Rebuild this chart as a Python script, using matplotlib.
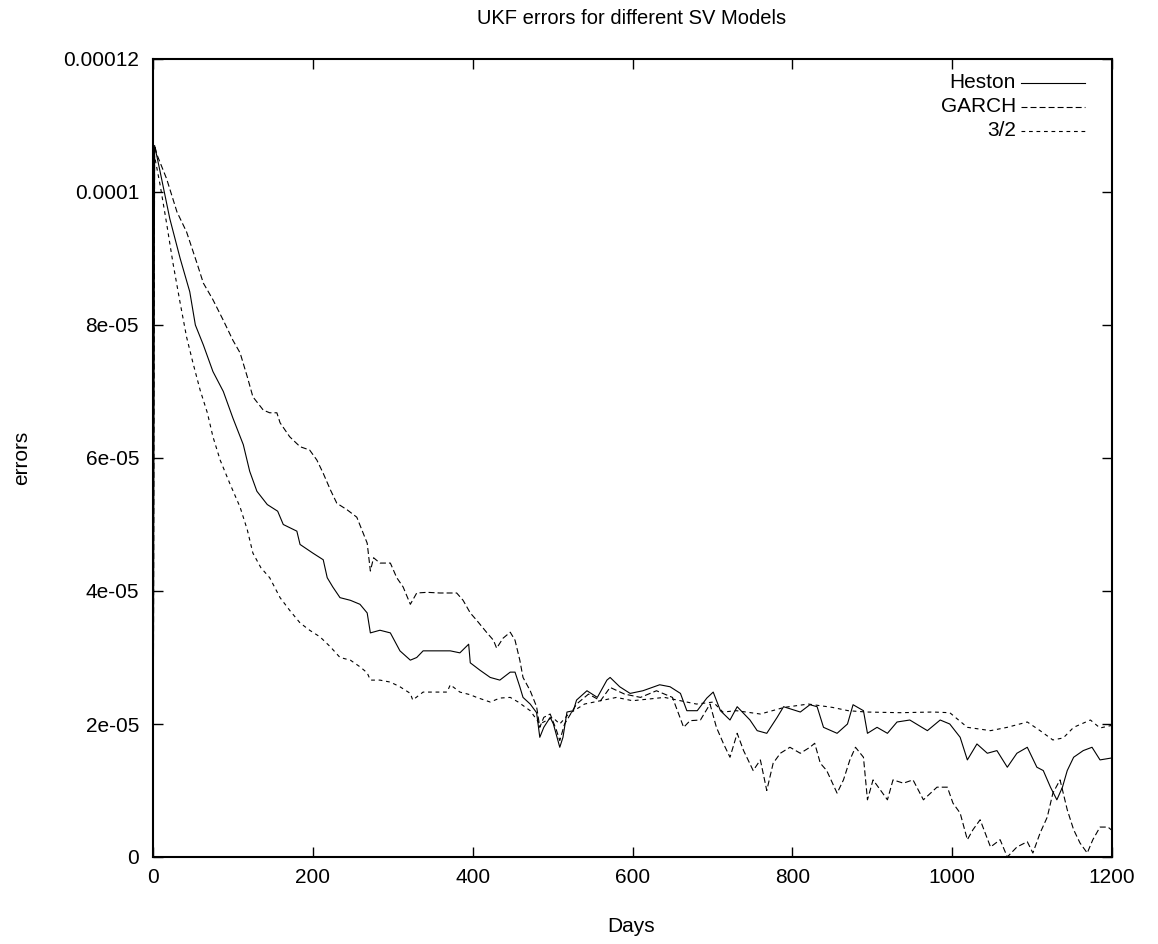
import numpy as np
import matplotlib
matplotlib.use("Agg")
import matplotlib.pyplot as plt
from matplotlib.lines import Line2D

plt.rcParams['font.family'] = ['Liberation Sans', 'DejaVu Sans']
plt.rcParams['lines.scale_dashes'] = False

# ---- data (errors in units of 1e-5) ----
heston_days = [0, 2, 9, 21, 34, 46, 53, 63, 75, 88, 100, 113, 121, 130, 143, 156, 163, 180, 184,
               200, 213, 218, 225, 234, 247, 259, 268, 272, 284, 297, 309, 322, 330, 338, 372,
               384, 395, 397, 409, 422, 434, 447, 453, 459, 463, 472, 480, 484, 489, 497, 501,
               509, 513, 518, 526, 530, 543, 556, 568, 572, 584, 597, 613, 634, 647, 660, 668,
               681, 693, 701, 710, 722, 731, 747, 756, 768, 781, 789, 810, 822, 831, 839, 856,
               869, 876, 889, 894, 906, 919, 931, 947, 969, 985, 997, 1010, 1019, 1031, 1044,
               1056, 1069, 1081, 1094, 1106, 1114, 1123, 1131, 1138, 1144, 1152, 1164, 1175,
               1185, 1200]
heston_vals = [0.0, 10.7, 10.3, 9.6, 9.0, 8.5, 8.0, 7.7, 7.3, 7.0, 6.6, 6.2, 5.8, 5.5, 5.3, 5.2,
               5.0, 4.9, 4.7, 4.57, 4.47, 4.2, 4.06, 3.9, 3.86, 3.8, 3.67, 3.37, 3.41, 3.37, 3.1,
               2.96, 3.0, 3.1, 3.1, 3.07, 3.2, 2.92, 2.81, 2.7, 2.66, 2.78, 2.78, 2.56, 2.4, 2.3,
               2.17, 1.8, 1.95, 2.1, 2.0, 1.65, 1.8, 2.18, 2.2, 2.36, 2.5, 2.4, 2.66, 2.7, 2.56,
               2.46, 2.5, 2.59, 2.56, 2.46, 2.2, 2.2, 2.39, 2.48, 2.2, 2.06, 2.26, 2.06, 1.9,
               1.86, 2.1, 2.26, 2.18, 2.29, 2.26, 1.95, 1.86, 2.0, 2.29, 2.2, 1.86, 1.95, 1.86,
               2.03, 2.06, 1.9, 2.06, 2.0, 1.8, 1.46, 1.7, 1.56, 1.6, 1.35, 1.56, 1.65, 1.35, 1.3,
               1.05, 0.86, 1.05, 1.3, 1.5, 1.6, 1.65, 1.46, 1.49]

garch_days = [0, 2, 5, 17, 30, 42, 55, 63, 75, 88, 100, 109, 118, 125, 138, 146, 155, 159, 171,
              184, 196, 205, 213, 222, 230, 243, 255, 263, 268, 272, 276, 284, 297, 305, 313,
              322, 330, 343, 359, 380, 388, 397, 405, 418, 426, 430, 438, 447, 453, 459, 463,
              472, 480, 484, 489, 497, 505, 509, 515, 520, 530, 545, 560, 572, 590, 610, 630,
              650, 664, 672, 685, 697, 705, 714, 722, 731, 739, 751, 760, 768, 776, 785, 797,
              810, 822, 828, 835, 843, 856, 864, 872, 879, 889, 894, 901, 919, 926, 939, 951,
              964, 981, 994, 1001, 1010, 1019, 1026, 1035, 1048, 1060, 1069, 1081, 1094, 1101,
              1110, 1119, 1126, 1135, 1144, 1152, 1160, 1169, 1176, 1185, 1195, 1200]
garch_vals = [0.0, 10.7, 10.56, 10.2, 9.7, 9.4, 8.93, 8.63, 8.38, 8.07, 7.77, 7.58, 7.22, 6.92,
              6.72, 6.68, 6.68, 6.53, 6.32, 6.17, 6.12, 5.97, 5.77, 5.52, 5.32, 5.22, 5.11, 4.87,
              4.72, 4.3, 4.5, 4.42, 4.42, 4.2, 4.06, 3.8, 3.97, 3.98, 3.97, 3.97, 3.86, 3.67,
              3.56, 3.37, 3.26, 3.14, 3.29, 3.38, 3.26, 2.96, 2.7, 2.5, 2.26, 1.95, 2.1, 2.15,
              1.9, 1.75, 2.0, 2.1, 2.3, 2.45, 2.35, 2.55, 2.45, 2.4, 2.5, 2.4, 1.95, 2.05, 2.06,
              2.3, 1.95, 1.7, 1.5, 1.86, 1.6, 1.3, 1.46, 1.0, 1.41, 1.56, 1.65, 1.56, 1.65, 1.71,
              1.41, 1.3, 0.96, 1.16, 1.46, 1.65, 1.5, 0.86, 1.16, 0.86, 1.16, 1.11, 1.16, 0.86,
              1.05, 1.05, 0.81, 0.66, 0.26, 0.41, 0.56, 0.15, 0.26, 0.0, 0.15, 0.23, 0.06, 0.36,
              0.6, 0.96, 1.16, 0.71, 0.41, 0.21, 0.06, 0.26, 0.45, 0.45, 0.4]

threehalf_days = [0, 1, 9, 17, 25, 34, 42, 50, 59, 68, 75, 84, 96, 109, 118, 125, 135, 146, 159,
                  171, 184, 196, 209, 222, 234, 247, 259, 268, 272, 284, 297, 309, 322, 325, 338,
                  368, 372, 384, 397, 405, 422, 434, 447, 457, 472, 484, 500, 509, 520, 540, 560,
                  580, 600, 640, 680, 701, 713, 730, 760, 790, 820, 850, 870, 893, 935, 976, 997,
                  1019, 1048, 1069, 1094, 1110, 1126, 1139, 1152, 1173, 1185, 1200]
threehalf_vals = [0.0, 10.6, 10.1, 9.53, 8.93, 8.33, 7.82, 7.43, 7.02, 6.68, 6.32, 5.97, 5.62,
                  5.26, 4.92, 4.57, 4.35, 4.2, 3.9, 3.71, 3.52, 3.41, 3.31, 3.16, 3.0, 2.96, 2.86,
                  2.77, 2.66, 2.66, 2.63, 2.56, 2.46, 2.36, 2.48, 2.48, 2.59, 2.48, 2.44, 2.4,
                  2.33, 2.39, 2.4, 2.33, 2.2, 2.0, 2.1, 2.0, 2.15, 2.3, 2.35, 2.4, 2.35, 2.4, 2.3,
                  2.33, 2.18, 2.2, 2.15, 2.25, 2.3, 2.25, 2.2, 2.18, 2.17, 2.18, 2.17, 1.95, 1.9,
                  1.95, 2.03, 1.9, 1.76, 1.79, 1.95, 2.06, 1.94, 1.98]

series_names = ["Heston", "GARCH", "3/2"]
x_ticks = [0, 200, 400, 600, 800, 1000, 1200]
y_ticks = [0, 2e-05, 4e-05, 6e-05, 8e-05, 1e-04, 1.2e-04]
y_tick_labels = ["0", "2e-05", "4e-05", "6e-05", "8e-05", "0.0001", "0.00012"]

# ---- figure ----
W, H = 1158, 944
fig = plt.figure(figsize=(W / 100, H / 100), dpi=100)
ax = fig.add_axes([153 / W, 1 - 857 / H, (1112 - 153) / W, (857 - 59) / H])

styles = [dict(linestyle='-'),
          dict(linestyle=(0, (4.3, 2.2))),
          dict(linestyle=(0, (2.7, 2.7)))]
data = [(heston_days, heston_vals), (garch_days, garch_vals), (threehalf_days, threehalf_vals)]

for (d, v), st in zip(data, styles):
    ax.plot(d, np.array(v) * 1e-5, color='black', linewidth=0.8, **st)

ax.set_xlim(0, 1200)
ax.set_ylim(0, 1.2e-4)
ax.set_xticks(x_ticks)
ax.set_xticklabels([str(t) for t in x_ticks])
ax.set_yticks(y_ticks)
ax.set_yticklabels(y_tick_labels)
ax.tick_params(direction='in', top=True, right=True, length=7, width=1.0,
               labelsize=15, colors='black')
ax.tick_params(axis='y', pad=10)
ax.tick_params(axis='x', pad=8)
for s in ax.spines.values():
    s.set_linewidth(1.5)

# gnuplot-style key (text right-aligned, sample to the right)
key_y = [83, 107, 131]
for name, st, yp in zip(series_names, styles, key_y):
    ya = (857 - yp) / (857 - 59)
    ax.text((1016 - 153) / 959, ya, name, transform=ax.transAxes, ha='right', va='center',
            fontsize=15)
    ax.add_line(Line2D([(1021 - 153) / 959, (1085 - 153) / 959], [ya, ya],
                       transform=ax.transAxes, color='black', linewidth=0.8, **st))

fig.text(632 / W, 1 - 18 / H, "UKF errors for different SV Models", ha='center', va='center',
         fontsize=14.5)
fig.text(631 / W, 1 - 927 / H, "Days", ha='center', va='center', fontsize=15)
fig.text(22 / W, 1 - 458 / H, "errors", ha='center', va='center', rotation=90, fontsize=15)

fig.savefig("out.png", dpi=100)
